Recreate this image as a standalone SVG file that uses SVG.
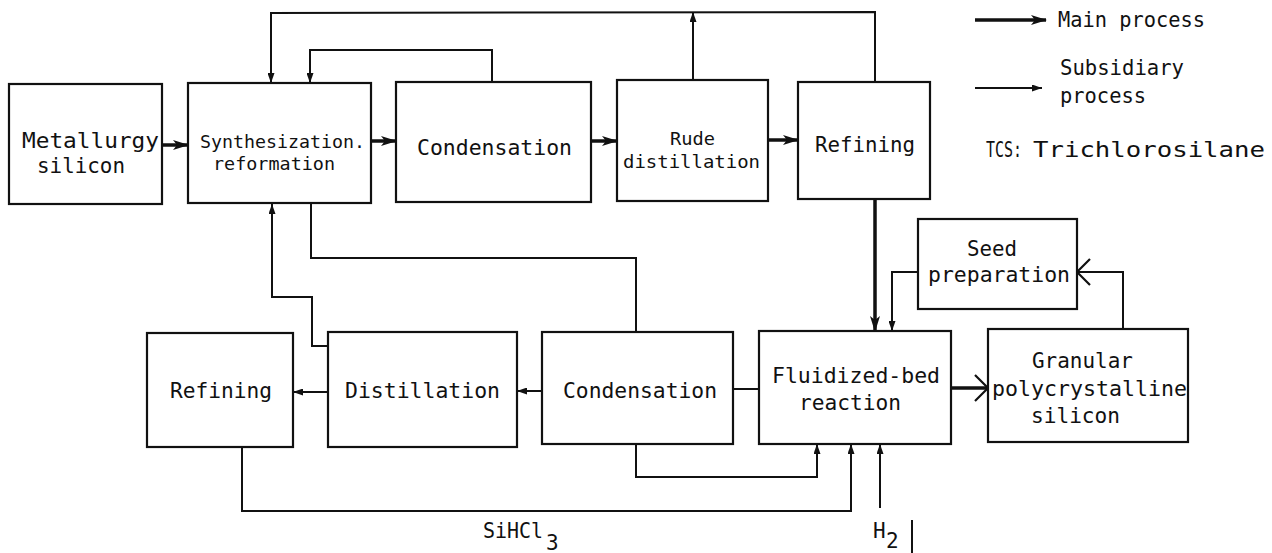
<svg xmlns="http://www.w3.org/2000/svg" width="1272" height="553" viewBox="0 0 1272 553">
<style>
.box{fill:#fff;stroke:#111;stroke-width:2.2}
.t{font-family:"DejaVu Sans Mono","Liberation Mono",monospace;font-size:21px;fill:#111}
.ts{font-size:18.5px}
.ln{fill:none;stroke:#111;stroke-width:2}
.mn{fill:none;stroke:#111;stroke-width:3.5}
</style>
<defs>
<marker id="am" markerUnits="userSpaceOnUse" viewBox="0 0 16 10" markerWidth="16" markerHeight="10" refX="15" refY="5" orient="auto"><path d="M0,0 L16,5 L0,10 L4,5 z" fill="#111"/></marker>
<marker id="as" markerUnits="userSpaceOnUse" viewBox="0 0 10 7" markerWidth="10" markerHeight="7" refX="10" refY="3.5" orient="auto"><path d="M0,0 L10,3.5 L0,7 z" fill="#111"/></marker>
<marker id="ao" markerUnits="userSpaceOnUse" viewBox="0 0 16 28" markerWidth="16" markerHeight="28" refX="14" refY="14" orient="auto"><path d="M1,1 L14,14 L1,27" fill="none" stroke="#111" stroke-width="2.2"/></marker>
</defs>

<g id="connectors">
<line class="mn" x1="162" y1="145" x2="188" y2="145" marker-end="url(#am)"/>
<line class="mn" x1="371" y1="141" x2="396" y2="141" marker-end="url(#am)"/>
<line class="mn" x1="591" y1="141" x2="617" y2="141" marker-end="url(#am)"/>
<line class="mn" x1="768" y1="140" x2="798" y2="140" marker-end="url(#am)"/>
<line class="mn" x1="875" y1="199" x2="875" y2="331" marker-end="url(#am)"/>
<line class="mn" x1="951" y1="388" x2="988" y2="388" marker-end="url(#ao)"/>
<polyline class="ln" points="875,82 875,12 271,13 271,83" marker-end="url(#as)"/>
<line class="ln" x1="693" y1="80" x2="693" y2="12" marker-end="url(#as)"/>
<polyline class="ln" points="492,82 492,50 310,50 310,83" marker-end="url(#as)"/>
<polyline class="ln" points="636,332 636,258 311,258 311,204"/>
<polyline class="ln" points="328,346 312,346 312,297 272,297 272,204" marker-end="url(#as)"/>
<line class="ln" x1="542" y1="391" x2="517" y2="391" marker-end="url(#as)"/>
<line class="ln" x1="328" y1="392" x2="293" y2="392" marker-end="url(#as)"/>
<line class="ln" x1="759" y1="389" x2="733" y2="389"/>
<polyline class="ln" points="1123,329 1123,272 1077,272" marker-end="url(#ao)"/>
<polyline class="ln" points="917,272 892,272 892,331" marker-end="url(#as)"/>
<polyline class="ln" points="636,444 636,477 817,477 817,444" marker-end="url(#as)"/>
<polyline class="ln" points="242,447 242,511 851,511 851,444" marker-end="url(#as)"/>
<line class="ln" x1="880" y1="508" x2="880" y2="444" marker-end="url(#as)"/>
<line class="mn" x1="975" y1="20" x2="1046" y2="20" marker-end="url(#am)"/>
<line class="ln" x1="975" y1="88" x2="1042" y2="88" marker-end="url(#as)"/>
</g>

<g id="metallurgy-silicon">
<rect class="box" x="9" y="84" width="153" height="120"/>
<text class="t" x="22" y="148" textLength="137" lengthAdjust="spacingAndGlyphs">Metallurgy</text>
<text class="t" x="37" y="173" textLength="88" lengthAdjust="spacingAndGlyphs">silicon</text>
</g>
<g id="synthesization-reformation">
<rect class="box" x="188" y="83" width="183" height="120"/>
<text class="t ts" x="200" y="148" textLength="165" lengthAdjust="spacingAndGlyphs">Synthesization.</text>
<text class="t ts" x="213" y="170" textLength="122" lengthAdjust="spacingAndGlyphs">reformation</text>
</g>
<g id="condensation-top">
<rect class="box" x="396" y="82" width="195" height="120"/>
<text class="t" x="417" y="155" textLength="155" lengthAdjust="spacingAndGlyphs">Condensation</text>
</g>
<g id="rude-distillation">
<rect class="box" x="617" y="80" width="151" height="121"/>
<text class="t ts" x="670" y="145" textLength="45" lengthAdjust="spacingAndGlyphs">Rude</text>
<text class="t ts" x="623" y="168" textLength="137" lengthAdjust="spacingAndGlyphs">distillation</text>
</g>
<g id="refining-top">
<rect class="box" x="798" y="82" width="132" height="117"/>
<text class="t" x="815" y="152" textLength="100" lengthAdjust="spacingAndGlyphs">Refining</text>
</g>
<g id="legend">
<text class="t" x="1058" y="27" textLength="147" lengthAdjust="spacingAndGlyphs">Main process</text>
<text class="t" x="1060" y="75" textLength="124" lengthAdjust="spacingAndGlyphs">Subsidiary</text>
<text class="t" x="1060" y="103" textLength="86" lengthAdjust="spacingAndGlyphs">process</text>
<text class="t" x="986" y="157" font-size="23" textLength="36" lengthAdjust="spacingAndGlyphs">TCS:</text>
<text class="t" x="1033" y="157" font-size="24" textLength="232" lengthAdjust="spacingAndGlyphs">Trichlorosilane</text>
</g>
<g id="seed-preparation">
<rect class="box" x="918" y="219" width="159" height="90"/>
<text class="t" x="967" y="256" textLength="50" lengthAdjust="spacingAndGlyphs">Seed</text>
<text class="t" x="928" y="282" textLength="142" lengthAdjust="spacingAndGlyphs">preparation</text>
</g>
<g id="refining-bottom">
<rect class="box" x="147" y="333" width="146" height="114"/>
<text class="t" x="170" y="398" textLength="102" lengthAdjust="spacingAndGlyphs">Refining</text>
</g>
<g id="distillation">
<rect class="box" x="328" y="332" width="189" height="115"/>
<text class="t" x="345" y="398" textLength="155" lengthAdjust="spacingAndGlyphs">Distillation</text>
</g>
<g id="condensation-bottom">
<rect class="box" x="542" y="332" width="191" height="112"/>
<text class="t" x="563" y="398" textLength="154" lengthAdjust="spacingAndGlyphs">Condensation</text>
</g>
<g id="fluidized-bed-reaction">
<rect class="box" x="759" y="331" width="192" height="113"/>
<text class="t" x="772" y="383" textLength="168" lengthAdjust="spacingAndGlyphs">Fluidized-bed</text>
<text class="t" x="799" y="410" textLength="102" lengthAdjust="spacingAndGlyphs">reaction</text>
</g>
<g id="granular-polycrystalline-silicon">
<rect class="box" x="988" y="329" width="200" height="113"/>
<text class="t" x="1032" y="368" textLength="101" lengthAdjust="spacingAndGlyphs">Granular</text>
<text class="t" x="992" y="396" textLength="195" lengthAdjust="spacingAndGlyphs">polycrystalline</text>
<text class="t" x="1031" y="423" textLength="89" lengthAdjust="spacingAndGlyphs">silicon</text>
</g>
<g id="labels">
<text class="t" x="483" y="538" textLength="60" lengthAdjust="spacingAndGlyphs">SiHCl</text>
<text class="t" x="546" y="550" font-size="23">3</text>
<text class="t" x="873" y="538" font-size="20">H</text>
<text class="t" x="886" y="548" font-size="22">2</text>
<line class="ln" x1="912" y1="520" x2="912" y2="553"/>
</g>
</svg>
